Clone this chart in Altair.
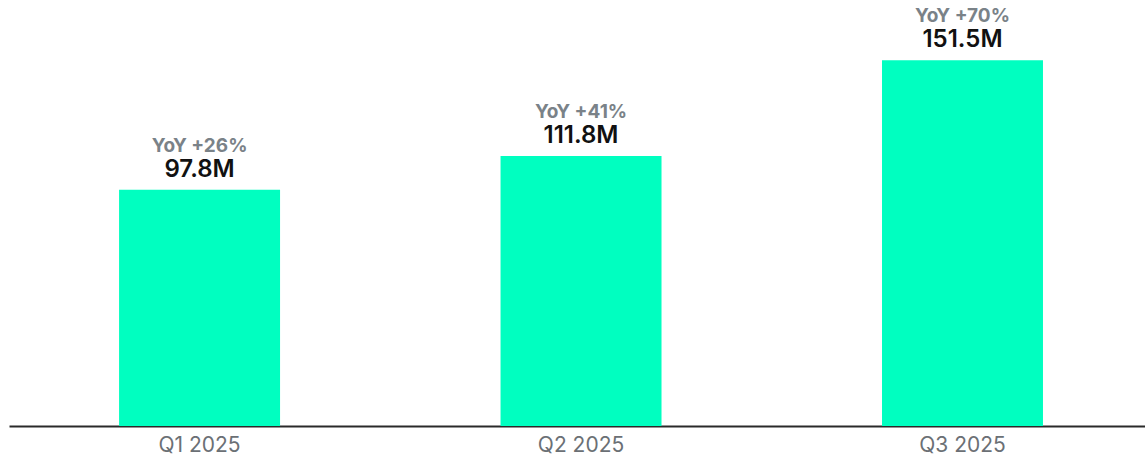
import altair as alt
import pandas as pd

quarters = ["Q1 2025", "Q2 2025", "Q3 2025"]
values = [97.8, 111.8, 151.5]
value_labels = ["97.8M", "111.8M", "151.5M"]
yoy_labels = ["YoY +26%", "YoY +41%", "YoY +70%"]

df = pd.DataFrame({"q": quarters, "v": values, "lab": value_labels, "yoy": yoy_labels})

FONT = "Inter"

x = alt.X("q:N", sort=quarters, title=None,
          scale=alt.Scale(paddingInner=0.578, paddingOuter=0.278, align=0.519),
          axis=alt.Axis(labelAngle=0, ticks=False, domain=True, domainColor="#2a2a2a",
                        domainWidth=2, labelFont=FONT, labelFontSize=21, labelColor="#6b7075",
                        labelPadding=8, grid=False))
y = alt.Y("v:Q", scale=alt.Scale(domain=[0, 176.4], nice=False), axis=None)

base = alt.Chart(df).encode(x=x, y=y)

bars = base.mark_bar(color="#00FFC0")
vals = base.mark_text(dy=-13, baseline="alphabetic", font=FONT, fontSize=24, fontWeight=600,
                      color="#111111").encode(text="lab:N")
yoy = base.mark_text(dy=-38, baseline="alphabetic", font=FONT, fontSize=19, fontWeight=700,
                     color="#7a8288").encode(text="yoy:N")

chart = (bars + vals + yoy).properties(
    width=1136, height=426,
    padding={"left": 9, "top": 0, "right": 0, "bottom": 33},
    autosize=alt.AutoSizeParams(type="none"),
).configure(background="white").configure_view(strokeWidth=0, stroke="transparent")

chart.save("out.html", embed_options={"renderer": "svg", "actions": False})
